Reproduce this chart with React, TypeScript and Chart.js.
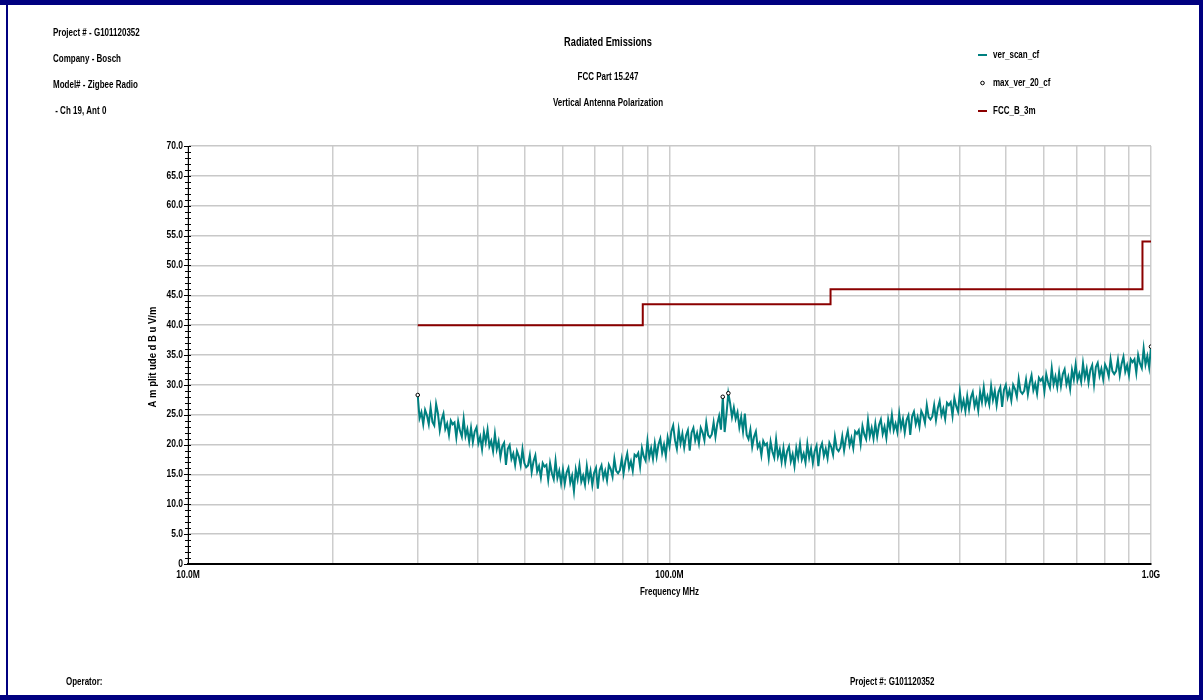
import React, { useEffect, useRef } from "react";
import { Chart, registerables } from "chart.js";

Chart.register(...registerables);

// ---- data ----
const SCAN_START_MHZ = 30;
const SCAN_STOP_MHZ = 1000;
const scanAmplitude = [
  28.2, 24.4, 25.4, 23.4, 25.8, 24.9, 23.4, 26.2, 23.8, 23.2,
  26.8, 25.2, 22.4, 24.2, 25.2, 22.6, 23.5, 21.6, 24.0, 23.4,
  23.7, 21.2, 23.9, 22.3, 21.3, 24.3, 21.4, 22.6, 20.5, 22.8,
  20.4, 22.2, 22.9, 20.2, 21.3, 19.2, 22.1, 20.4, 22.5, 19.7,
  20.6, 18.9, 21.8, 19.2, 20.5, 17.9, 19.7, 20.3, 16.6, 19.3,
  19.9, 17.6, 18.5, 16.6, 18.9, 18.0, 16.5, 19.2, 16.9, 16.2,
  16.5, 18.2, 15.4, 17.2, 18.2, 15.5, 16.4, 14.5, 16.9, 16.3,
  16.6, 14.1, 16.9, 15.2, 14.2, 17.3, 14.4, 15.6, 13.5, 15.8,
  13.4, 15.3, 16.1, 13.6, 14.8, 12.2, 15.8, 14.2, 16.5, 13.8,
  14.8, 13.3, 16.4, 14.1, 15.6, 13.2, 15.3, 16.1, 12.6, 15.7,
  16.5, 14.4, 15.6, 14.0, 16.6, 15.9, 14.6, 17.6, 15.6, 15.2,
  15.7, 17.6, 15.2, 17.2, 18.5, 16.1, 17.2, 15.6, 18.3, 18.0,
  18.6, 16.3, 19.4, 18.0, 17.3, 20.6, 17.9, 19.4, 17.6, 20.2,
  18.0, 20.0, 21.0, 18.6, 20.0, 18.1, 21.2, 19.7, 22.2, 23.2,
  20.7, 19.3, 22.5, 20.2, 21.8, 19.5, 21.5, 22.4, 19.0, 22.0,
  22.8, 20.7, 21.9, 20.2, 22.8, 22.0, 20.7, 23.7, 21.6, 21.2,
  21.7, 23.7, 21.3, 23.5, 24.8, 22.5, 28.0, 22.1, 25.1, 28.6,
  26.9, 24.6, 26.2, 24.3, 25.4, 22.9, 24.6, 22.2, 25.2, 21.6,
  20.9, 22.5, 19.6, 21.3, 22.2, 19.5, 20.2, 18.2, 20.6, 19.9,
  20.2, 17.7, 20.5, 18.8, 17.8, 20.9, 18.0, 19.2, 17.1, 19.4,
  17.0, 18.9, 19.7, 17.2, 18.4, 16.4, 19.4, 17.8, 20.1, 17.5,
  18.5, 17.0, 20.1, 17.8, 19.3, 16.9, 18.9, 19.8, 16.4, 19.3,
  20.2, 18.1, 19.3, 17.7, 20.3, 19.6, 18.3, 21.3, 19.3, 18.9,
  19.5, 21.4, 19.0, 21.0, 22.3, 19.9, 21.1, 19.4, 22.2, 21.8,
  22.4, 20.1, 23.1, 21.7, 20.9, 24.1, 21.4, 22.8, 21.0, 23.5,
  21.3, 23.3, 24.2, 21.8, 23.0, 21.1, 24.2, 22.6, 25.0, 22.4,
  23.5, 22.1, 25.2, 22.8, 24.3, 22.0, 24.1, 24.9, 21.6, 24.7,
  25.5, 23.4, 24.6, 23.0, 25.6, 24.9, 23.6, 26.6, 24.6, 24.2,
  24.7, 26.6, 24.1, 26.1, 27.3, 24.9, 26.0, 24.3, 27.0, 26.6,
  27.1, 24.8, 27.8, 26.4, 25.5, 28.8, 26.1, 27.4, 25.6, 28.1,
  25.9, 27.9, 28.8, 26.4, 27.6, 25.7, 28.8, 27.1, 29.6, 27.0,
  28.1, 26.7, 29.8, 27.5, 29.0, 26.6, 28.8, 29.6, 26.3, 29.2,
  30.0, 27.9, 29.1, 27.4, 30.0, 29.3, 28.0, 31.0, 28.9, 28.5,
  29.0, 30.9, 28.4, 30.3, 31.6, 29.1, 30.2, 28.5, 31.2, 30.7,
  31.2, 28.9, 31.8, 30.4, 29.5, 32.8, 30.1, 31.4, 29.6, 32.1,
  29.8, 31.8, 32.6, 30.1, 31.3, 29.3, 32.5, 30.9, 33.4, 30.8,
  31.9, 30.5, 33.6, 31.2, 32.7, 30.4, 32.5, 33.3, 30.1, 33.0,
  33.7, 31.5, 32.7, 30.9, 33.4, 32.7, 31.4, 34.3, 32.3, 31.8,
  32.3, 34.2, 31.6, 33.5, 34.7, 32.2, 33.3, 31.6, 34.3, 33.8,
  34.3, 32.0, 35.0, 33.6, 32.8, 36.1, 33.4, 34.8, 32.9, 36.4,
];
// sweep grid (log-spaced points between start and stop)
const scanFreq = scanAmplitude.map(
  (_, i) => SCAN_START_MHZ * Math.pow(SCAN_STOP_MHZ / SCAN_START_MHZ, i / (scanAmplitude.length - 1))
);

const markerFreq = [30, 129.0, 132.5, 1000];
const markerAmp = [28.3, 28.0, 28.6, 36.4];

const limitFreq = [30, 88, 216, 960, 1000];
const limitAmp = [40, 43.5, 46, 54, 54];

const xGridValues = [10, 20, 30, 40, 50, 60, 70, 80, 90, 100, 200, 300, 400, 500, 600, 700, 800, 900, 1000];
const xLabelValues = [10, 100, 1000];
const xLabels = ["10.0M", "100.0M", "1.0G"];
const yLabelValues = [0, 5, 10, 15, 20, 25, 30, 35, 40, 45, 50, 55, 60, 65, 70];

const headerLines = ["Project # - G101120352", "Company - Bosch", "Model# - Zigbee Radio", " - Ch 19, Ant 0"];
const titleText = "Radiated Emissions";
const subTitles = ["FCC Part 15.247", "Vertical Antenna Polarization"];
const legendNames = ["ver_scan_cf", "max_ver_20_cf", "FCC_B_3m"];

const TEAL = "#008080";
const LIMIT = "#8b0000";
const NAVY = "#000080";
const FONT = '"Liberation Sans", Arial, sans-serif';

function drawText(
  ctx: CanvasRenderingContext2D,
  s: string,
  x: number,
  y: number,
  size: number,
  align: CanvasTextAlign = "left",
  sx = 0.8,
  bold = true
) {
  ctx.save();
  ctx.font = `${bold ? "bold " : ""}${size}px ${FONT}`;
  ctx.textBaseline = "middle";
  ctx.fillStyle = "#000";
  const w = ctx.measureText(s).width * sx;
  let left = x;
  if (align === "center") left = x - w / 2;
  if (align === "right") left = x - w;
  ctx.translate(left, y);
  ctx.scale(sx, 1);
  ctx.textAlign = "left";
  ctx.fillText(s, 0, 0);
  ctx.restore();
}

const decorPlugin = {
  id: "decor",
  beforeDraw(chart: any) {
    const ctx = chart.ctx as CanvasRenderingContext2D;
    ctx.save();
    ctx.fillStyle = "#fff";
    ctx.fillRect(0, 0, chart.width, chart.height);
    ctx.restore();
  },
  afterDraw(chart: any) {
    const ctx = chart.ctx as CanvasRenderingContext2D;
    const xs = chart.scales.x;
    const ys = chart.scales.y;
    const ca = chart.chartArea;

    // minor / major ticks on the y axis
    ctx.save();
    ctx.strokeStyle = "#000";
    ctx.lineWidth = 1;
    for (let v = 0; v <= 70; v++) {
      const py = Math.round(ys.getPixelForValue(v)) + 0.5;
      ctx.beginPath();
      const major = v % 5 === 0;
      ctx.moveTo(ca.left - (major ? 4 : 3), py);
      ctx.lineTo(ca.left + 3, py);
      ctx.stroke();
    }
    ctx.restore();

    // y tick labels
    yLabelValues.forEach((v) => {
      drawText(ctx, v === 0 ? "0" : v.toFixed(1), ca.left - 5, ys.getPixelForValue(v), 10, "right", 0.85);
    });
    // x tick labels
    xLabelValues.forEach((v, i) => {
      drawText(ctx, xLabels[i], xs.getPixelForValue(v), ca.bottom + 11, 10, "center", 0.85);
    });

    // axis titles
    drawText(ctx, "Frequency MHz", (ca.left + ca.right) / 2, ca.bottom + 28, 10, "center");
    ctx.save();
    ctx.translate(153, 357);
    ctx.rotate(-Math.PI / 2);
    drawText(ctx, "A m plit ude d B u V/m", 0, 0, 10, "center", 0.95);
    ctx.restore();

    // header block
    headerLines.forEach((s, i) => drawText(ctx, s, 53, 33 + i * 26, 10, "left"));
    drawText(ctx, titleText, 608, 43, 12, "center", 0.77);
    drawText(ctx, subTitles[0], 608, 77, 10, "center");
    drawText(ctx, subTitles[1], 608, 103, 10, "center");

    // legend
    const ly = [55, 83, 111];
    ctx.save();
    ctx.lineWidth = 2;
    ctx.strokeStyle = TEAL;
    ctx.beginPath();
    ctx.moveTo(978, ly[0]);
    ctx.lineTo(987, ly[0]);
    ctx.stroke();
    ctx.strokeStyle = LIMIT;
    ctx.beginPath();
    ctx.moveTo(978, ly[2]);
    ctx.lineTo(987, ly[2]);
    ctx.stroke();
    ctx.lineWidth = 1;
    ctx.strokeStyle = "#000";
    ctx.fillStyle = "#fff";
    ctx.beginPath();
    ctx.arc(982.5, ly[1], 1.8, 0, Math.PI * 2);
    ctx.fill();
    ctx.stroke();
    ctx.restore();
    legendNames.forEach((s, i) => drawText(ctx, s, 993, ly[i], 10, "left"));

    // footer
    drawText(ctx, "Operator:", 66, 682, 10, "left");
    drawText(ctx, "Project #: G101120352", 850, 682, 10, "left");

    // frame
    ctx.save();
    ctx.fillStyle = NAVY;
    ctx.fillRect(0, 0, chart.width, 5);
    ctx.fillRect(6, 0, 2, chart.height);
    ctx.fillRect(chart.width - 4, 0, 4, chart.height);
    ctx.fillRect(0, chart.height - 5, chart.width, 5);
    ctx.restore();
  },
};

export default function App() {
  const ref = useRef<HTMLCanvasElement | null>(null);
  useEffect(() => {
    if (!ref.current) return;
    const chart = new Chart(ref.current, {
      type: "line",
      data: {
        datasets: [
          {
            label: "ver_scan_cf",
            data: scanFreq.map((f, i) => ({ x: f, y: scanAmplitude[i] })),
            borderColor: TEAL,
            borderWidth: 2,
            pointRadius: 0,
            tension: 0,
            order: 3,
          },
          {
            label: "FCC_B_3m",
            data: limitFreq.map((f, i) => ({ x: f, y: limitAmp[i] })),
            borderColor: LIMIT,
            borderWidth: 2,
            pointRadius: 0,
            stepped: "before",
            order: 2,
          },
          {
            label: "max_ver_20_cf",
            data: markerFreq.map((f, i) => ({ x: f, y: markerAmp[i] })),
            showLine: false,
            pointRadius: 1.8,
            pointBorderWidth: 1,
            pointBorderColor: "#000",
            pointBackgroundColor: "#fff",
            borderColor: "#000",
            order: 1,
          },
        ],
      },
      options: {
        responsive: false,
        animation: false,
        devicePixelRatio: 1,
        layout: { padding: { left: 188, right: 52, top: 146, bottom: 136 } },
        plugins: {
          legend: { display: false },
          title: { display: false },
          tooltip: { enabled: false },
        },
        scales: {
          x: {
            type: "logarithmic",
            min: 10,
            max: 1000,
            afterBuildTicks: (s: any) => {
              s.ticks = xGridValues.map((v) => ({ value: v }));
            },
            afterFit: (s: any) => {
              s.height = 0;
            },
            ticks: { display: false },
            grid: { color: "#cdcdcd", lineWidth: 1.5, drawTicks: false },
            border: { display: true, color: "#000", width: 2 },
          },
          y: {
            type: "linear",
            min: 0,
            max: 70,
            ticks: { display: false, stepSize: 5 },
            afterFit: (s: any) => {
              s.width = 0;
            },
            grid: { color: "#c8c8c8", lineWidth: 1.5, drawTicks: false },
            border: { display: true, color: "#000", width: 1 },
          },
        },
      },
      plugins: [decorPlugin],
    });
    return () => chart.destroy();
  }, []);
  return (
    <div style={{ position: "absolute", left: 0, top: 0, width: 1203, height: 700 }}>
      <canvas ref={ref} width={1203} height={700} style={{ display: "block" }} />
    </div>
  );
}
